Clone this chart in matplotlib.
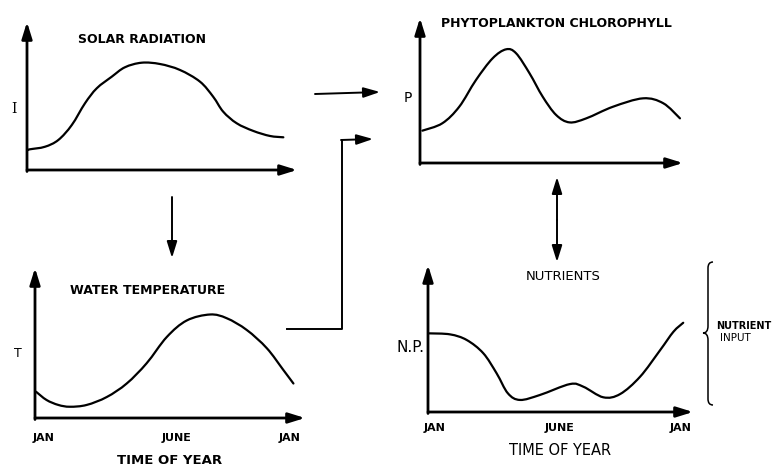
import numpy as np
import matplotlib
matplotlib.use("Agg")
import matplotlib.pyplot as plt
from matplotlib.path import Path
from matplotlib.patches import PathPatch

W, H = 775, 467

# curves: month of year (0 = JAN) vs relative level
solar_month = [0.05, 0.14, 0.84, 1.47, 2.10, 2.72, 3.27, 3.97, 4.59, 5.38, 6.24,
               7.17, 8.11, 8.73, 9.20, 9.83, 10.61, 11.39, 12.02]
solar_val = [0.135, 0.14, 0.157, 0.203, 0.304, 0.451, 0.552, 0.63, 0.694, 0.725, 0.716,
             0.676, 0.597, 0.495, 0.394, 0.316, 0.264, 0.23, 0.221]

temp_month = [0.05, 0.54, 1.09, 1.63, 2.41, 3.35, 4.28, 5.21, 6.15, 7.08,
              8.17, 8.95, 9.88, 10.82, 11.59, 12.06]
temp_val = [0.175, 0.12, 0.087, 0.075, 0.087, 0.14, 0.23, 0.365, 0.54, 0.65,
            0.69, 0.665, 0.587, 0.465, 0.32, 0.23]

phyto_month = [0.11, 1.03, 1.81, 2.58, 3.35, 3.97, 4.43, 5.05, 5.66, 6.28,
               6.9, 7.67, 8.9, 10.29, 11.22, 11.99]
phyto_val = [0.223, 0.274, 0.388, 0.572, 0.722, 0.784, 0.757, 0.619, 0.457,
             0.331, 0.28, 0.308, 0.388, 0.446, 0.412, 0.308]

nutr_month = [0.06, 1.04, 1.82, 2.6, 3.23, 3.76, 4.33, 5.27, 6.68, 7.31,
              8.25, 9.04, 9.98, 10.92, 11.55, 12.01]
nutr_val = [0.535, 0.528, 0.49, 0.40, 0.263, 0.127, 0.082, 0.116, 0.19, 0.172,
            0.10, 0.122, 0.24, 0.42, 0.546, 0.607]

tick_labels = ["JAN", "JUNE", "JAN"]
temp_ticks = [0.4, 6.6, 11.9]
nutr_ticks = [0.3, 6.2, 11.9]

ARROW = dict(arrowstyle="-|>,head_length=0.9,head_width=0.28", color="black",
             lw=2.0, mutation_scale=11, shrinkA=0, shrinkB=0)
TITLE = dict(fontsize=9, fontweight="bold", family="DejaVu Sans")
TICK = dict(fontsize=8, fontweight="bold", family="DejaVu Sans")

fig = plt.figure(figsize=(W / 100, H / 100), dpi=100)


def smooth_line(ax, xs, ys, lw=1.6):
    """draw the read points as one smooth curve (Catmull-Rom as cubic Beziers)"""
    p = np.column_stack([xs, ys])
    verts, codes = [p[0]], [Path.MOVETO]
    for i in range(len(p) - 1):
        p0 = p[max(i - 1, 0)]
        p1, p2 = p[i], p[i + 1]
        p3 = p[min(i + 2, len(p) - 1)]
        verts += [p1 + (p2 - p0) / 6, p2 - (p3 - p1) / 6, p2]
        codes += [Path.CURVE4] * 3
    ax.add_patch(PathPatch(Path(verts, codes), fill=False, lw=lw, color="black",
                           clip_on=False, capstyle="round"))


def panel(left, top, right, bottom, xmax):
    """axes placed by its pixel box, with arrowed axes drawn by hand"""
    ax = fig.add_axes([left / W, 1 - bottom / H, (right - left) / W, (bottom - top) / H])
    ax.set_xlim(0, xmax)
    ax.set_ylim(0, 1)
    for s in ax.spines.values():
        s.set_visible(False)
    ax.set_yticks([])
    ax.set_xticks([])
    ax.patch.set_alpha(0)
    ax.annotate("", xy=(0, 1), xytext=(0, -0.01), xycoords="axes fraction", arrowprops=ARROW)
    ax.annotate("", xy=(1, 0), xytext=(0, 0), xycoords="axes fraction", arrowprops=ARROW)
    return ax


# solar radiation
ax1 = panel(27, 22, 297, 170, 12.66)
smooth_line(ax1, solar_month, solar_val)
ax1.text(0.19, 0.88, "SOLAR RADIATION", transform=ax1.transAxes, ha="left", va="center", **TITLE)
ax1.text(-0.05, 0.41, "I", transform=ax1.transAxes, ha="center", va="center",
         fontsize=10, family="DejaVu Serif")

# water temperature
ax2 = panel(35, 268, 305, 418, 12.6)
smooth_line(ax2, temp_month, temp_val)
ax2.text(0.13, 0.85, "WATER TEMPERATURE", transform=ax2.transAxes, ha="left", va="center", **TITLE)
ax2.text(-0.063, 0.43, "T", transform=ax2.transAxes, ha="center", va="center", fontsize=9)
ax2.set_xticks(temp_ticks)
ax2.set_xticklabels(tick_labels, **TICK)
ax2.tick_params(axis="x", length=0, pad=10.5)
ax2.text(0.5, -0.28, "TIME OF YEAR", transform=ax2.transAxes, ha="center", va="center",
         fontsize=9.5, fontweight="bold")

# phytoplankton chlorophyll
ax3 = panel(420, 18, 683, 163, 12.13)
smooth_line(ax3, phyto_month, phyto_val)
ax3.text(0.08, 0.96, "PHYTOPLANKTON CHLOROPHYLL", transform=ax3.transAxes, ha="left",
         va="center", **TITLE)
ax3.text(-0.045, 0.45, "P", transform=ax3.transAxes, ha="center", va="center", fontsize=10)

# nutrients
ax4 = panel(428, 265, 693, 412, 12.47)
smooth_line(ax4, nutr_month, nutr_val)
ax4.text(0.51, 0.92, "NUTRIENTS", transform=ax4.transAxes, ha="center", va="center",
         fontsize=9.5)
ax4.text(-0.066, 0.44, "N.P.", transform=ax4.transAxes, ha="center", va="center", fontsize=11)
ax4.set_xticks(nutr_ticks)
ax4.set_xticklabels(tick_labels, **TICK)
ax4.tick_params(axis="x", length=0, pad=8)
ax4.text(0.5, -0.26, "TIME OF YEAR", transform=ax4.transAxes, ha="center", va="center",
         fontsize=10.5)

# links between the panels, in pixel space
ov = fig.add_axes([0, 0, 1, 1], zorder=-1)
ov.set_xlim(0, W)
ov.set_ylim(H, 0)
ov.axis("off")
thin = dict(ARROW, lw=1.4)
ov.annotate("", xy=(380, 92), xytext=(315, 94), arrowprops=thin)
ov.annotate("", xy=(172, 258), xytext=(172, 197), arrowprops=thin)
ov.plot([287, 342, 342], [329, 329, 140], color="black", lw=1.4)
ov.annotate("", xy=(373, 139), xytext=(341, 140), arrowprops=thin)
ov.annotate("", xy=(557, 177), xytext=(557, 220), arrowprops=thin)
ov.annotate("", xy=(557, 262), xytext=(557, 220), arrowprops=thin)

# brace for nutrient input
verts = [(713, 262), (708, 262), (708, 268), (708, 326), (708, 333), (703, 333),
         (708, 333), (708, 340), (708, 399), (708, 405), (713, 405)]
codes = [Path.MOVETO, Path.CURVE3, Path.CURVE3, Path.LINETO, Path.CURVE3, Path.CURVE3,
         Path.CURVE3, Path.CURVE3, Path.LINETO, Path.CURVE3, Path.CURVE3]
ov.add_patch(PathPatch(Path(verts, codes), fill=False, lw=1.1, color="black"))
ov.text(716, 326, "NUTRIENT", ha="left", va="center", fontsize=7, fontweight="bold")
ov.text(720, 338, "INPUT", ha="left", va="center", fontsize=7.5)

fig.savefig("out.png", dpi=100, facecolor="white")
